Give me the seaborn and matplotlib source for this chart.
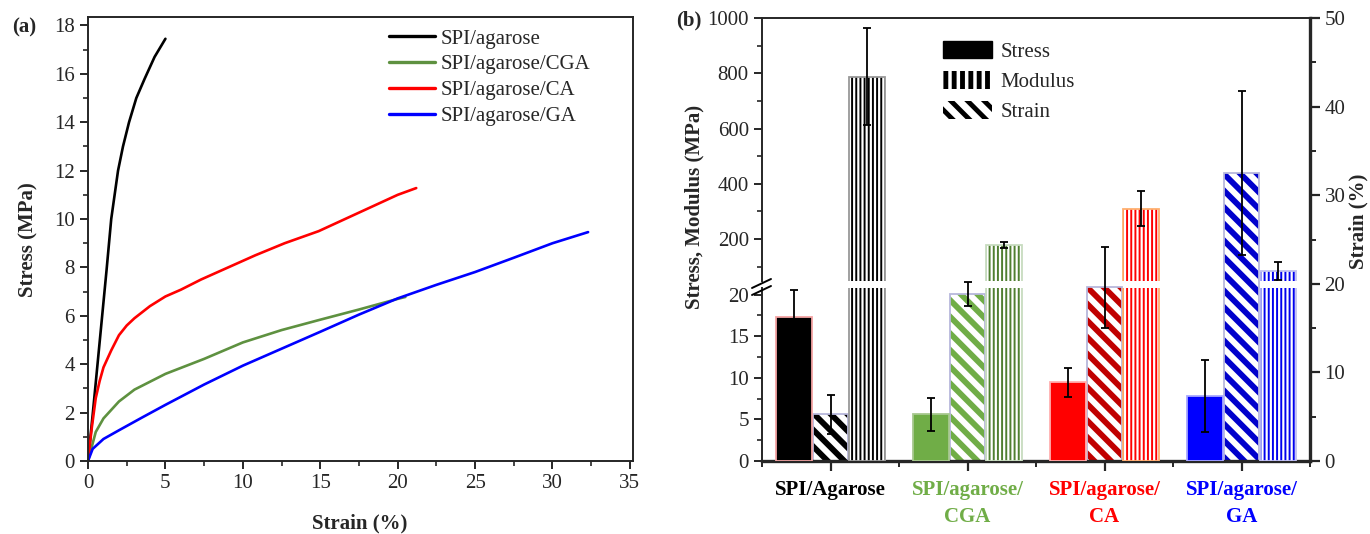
import numpy as np
import pandas as pd
import matplotlib
matplotlib.use('Agg')
import matplotlib.pyplot as plt
from matplotlib.patches import Patch
from matplotlib.lines import Line2D
from matplotlib.ticker import MultipleLocator, FixedLocator
import seaborn as sns

# (a) stress-strain curves
black_strain = [0, 0.3, 0.6, 0.9, 1.2, 1.5, 1.72, 1.94, 2.26, 2.65, 3.12, 3.66, 4.3, 5.0]
black_stress = [0, 1.9, 3.9, 5.9, 7.9, 10.0, 11.0, 12.0, 13.0, 14.0, 15.0, 15.8, 16.7, 17.45]
green_strain = [0, 0.5, 1, 2, 3, 5, 7.5, 10, 12.5, 15, 17.5, 20, 20.5]
green_stress = [0, 1.2, 1.76, 2.46, 2.95, 3.6, 4.22, 4.9, 5.41, 5.84, 6.26, 6.7, 6.78]
red_strain = [0, 0.25, 0.5, 0.75, 1.0, 1.5, 2.0, 2.5, 3.0, 3.5, 4.0, 5.0, 6.0, 7.3, 9.05, 10.8, 12.7, 14.9, 16.6, 18.3, 20.0, 21.2]
red_stress = [0, 1.4, 2.6, 3.3, 3.87, 4.57, 5.2, 5.6, 5.9, 6.15, 6.4, 6.8, 7.08, 7.5, 8.0, 8.5, 9.0, 9.5, 10.0, 10.5, 11.0, 11.28]
blue_strain = [0, 0.3, 1, 2, 3.5, 5, 7.5, 10, 12.5, 15, 17.5, 20, 22.5, 25, 27.5, 30, 32.3]
blue_stress = [0, 0.5, 0.91, 1.27, 1.8, 2.32, 3.16, 3.94, 4.64, 5.34, 6.05, 6.72, 7.28, 7.81, 8.4, 9.0, 9.46]
curve_names = ['SPI/agarose', 'SPI/agarose/CGA', 'SPI/agarose/CA', 'SPI/agarose/GA']
curve_colors = ['black', '#5e9140', '#ff0000', '#0000ff']

# (b) bar values
samples = ['SPI/Agarose', 'SPI/agarose/\nCGA', 'SPI/agarose/\nCA', 'SPI/agarose/\nGA']
sample_colors = ['black', '#70ad47', '#ff0000', '#0000ff']
stress = [17.3, 5.6, 9.45, 7.8]
stress_err = [3.2, 1.95, 1.75, 4.3]
strain = [5.3, 18.9, 19.6, 32.5]
strain_err = [2.2, 1.35, 4.6, 9.3]
modulus = [788, 178, 310, 84]
modulus_err = [175, 10, 63, 31]

sns.set_style('ticks')
plt.rcParams['font.family'] = ['Liberation Serif', 'DejaVu Serif']
plt.rcParams['font.size'] = 15
plt.rcParams['axes.linewidth'] = 1.4

W, H = 1370, 534
fig = plt.figure(figsize=(13.7, 5.34), dpi=100)

def box(x0, y0, x1, y1):
    return [x0 / W, 1 - y1 / H, (x1 - x0) / W, (y1 - y0) / H]

def fx(x): return x / W
def fy(y): return 1 - y / H

# ---------------- panel (a)
ax = fig.add_axes(box(88, 17, 633, 461))
xs = [black_strain, green_strain, red_strain, blue_strain]
ys = [black_stress, green_stress, red_stress, blue_stress]
for i in range(4):
    df = pd.DataFrame({'strain': xs[i], 'stress': ys[i]})
    sns.lineplot(data=df, x='strain', y='stress', color=curve_colors[i], lw=1.9,
                 sort=False, estimator=None, label=curve_names[i], ax=ax)
ax.set_xlim(0, 35.2)
ax.set_ylim(0, 18.35)
ax.xaxis.set_major_locator(MultipleLocator(5))
ax.xaxis.set_minor_locator(MultipleLocator(2.5))
ax.yaxis.set_major_locator(MultipleLocator(2))
ax.yaxis.set_minor_locator(MultipleLocator(1))
ax.tick_params(which='major', direction='out', length=6, width=1.4, labelsize=15)
ax.tick_params(which='minor', direction='out', length=3.5, width=1.2)
ax.set_xlabel('')
ax.set_ylabel('')
for s in ax.spines.values():
    s.set_linewidth(1.4)
ax.legend(loc='upper left', bbox_to_anchor=(fx(389), fy(29)), bbox_transform=fig.transFigure,
          frameon=False, fontsize=15, handlelength=2.2, handletextpad=0.3,
          labelspacing=0.3, borderpad=0, borderaxespad=0)
for ln in ax.get_legend().get_lines():
    ln.set_linewidth(2.4)
fig.text(fx(28), fy(240), 'Stress (MPa)', rotation=90, ha='center', va='center',
         fontsize=15, fontweight='bold')
fig.text(fx(360), fy(523), 'Strain (%)', ha='center', va='center', fontsize=15, fontweight='bold')
fig.text(fx(24), fy(27), '(a)', ha='center', va='center', fontsize=15, fontweight='bold')

# ---------------- panel (b)
axf = fig.add_axes(box(762, 18, 1310, 461))
axh = fig.add_axes(box(762, 18, 1310, 281), facecolor='none')
axl = fig.add_axes(box(762, 288, 1310, 461), facecolor='none')

pos = np.arange(1, 5)
w = 0.262
off = 0.266
stress_edge = ['#f4a4a4', '#a8c890', '#ffb0b0', '#a8a8ff']
strain_hatch = ['black', '#70ad47', '#c00000', '#0000cc']
strain_edge = '#b8b8dc'
mod_hatch = ['black', '#4f7f30', '#ff0000', '#0000ee']
mod_edge = ['#999999', '#c8dcc0', '#ffb070', '#c0c0f0']
err_kw = dict(fmt='none', ecolor='black', elinewidth=1.3, capsize=3, capthick=1.3, zorder=5)

def hatched_bar(a, x, h, hatch, hc, ec, hlw, bottom=0):
    plt.rcParams['hatch.linewidth'] = hlw
    bars = a.bar(x, h, w, bottom=bottom, color='white', edgecolor=hc, linewidth=0, hatch=hatch)
    for p in bars:
        if hasattr(p, 'set_hatch_linewidth'):
            p.set_hatch_linewidth(hlw)
    a.bar(x, h, w, bottom=bottom, fill=False, edgecolor=ec, linewidth=1.3)

for i in range(4):
    # stress (left, lower segment)
    axl.bar(pos[i] - off, stress[i], w, color=sample_colors[i], edgecolor=stress_edge[i], linewidth=1.3)
    axl.errorbar(pos[i] - off, stress[i], yerr=stress_err[i], **err_kw)
    # strain (right axis)
    hatched_bar(axf, pos[i], strain[i], '\\\\', strain_hatch[i], strain_edge, 4.2)
    axf.errorbar(pos[i], strain[i], yerr=strain_err[i], **err_kw)
    # modulus (left, both segments)
    hatched_bar(axl, pos[i] + off, modulus[i], '||||', mod_hatch[i], mod_edge[i], 1.4)
    hatched_bar(axh, pos[i] + off, modulus[i], '||||', mod_hatch[i], mod_edge[i], 1.4)
    axh.errorbar(pos[i] + off, modulus[i], yerr=modulus_err[i], **err_kw)

for a in (axf, axh, axl):
    a.set_xlim(0.5, 4.5)

axl.set_ylim(0, 20.8)
axh.set_ylim(48, 1000)
axf.set_ylim(0, 50)

# lower/upper left segments: left spine only
for a in (axh, axl):
    for k in ('top', 'right', 'bottom'):
        a.spines[k].set_visible(False)
    a.spines['left'].set_linewidth(1.4)
    a.set_xticks([])
    a.tick_params(which='major', direction='out', length=6, width=1.4, labelsize=15)
    a.tick_params(which='minor', direction='out', length=3.5, width=1.2)
axl.yaxis.set_major_locator(MultipleLocator(5))
axl.yaxis.set_minor_locator(MultipleLocator(2.5))
axh.yaxis.set_major_locator(FixedLocator([200, 400, 600, 800, 1000]))
axh.yaxis.set_minor_locator(FixedLocator([100, 300, 500, 700, 900]))

# full frame with strain axis on the right
axf.spines['left'].set_visible(False)
axf.spines['bottom'].set_linewidth(2.4)
axf.spines['right'].set_linewidth(2.4)
axf.spines['top'].set_linewidth(1.4)
axf.yaxis.tick_right()
axf.yaxis.set_major_locator(MultipleLocator(10))
axf.yaxis.set_minor_locator(MultipleLocator(5))
axf.set_xticks(pos)
axf.set_xticklabels(samples, fontweight='bold', fontsize=15, linespacing=1.45)
for lab, c in zip(axf.get_xticklabels(), sample_colors):
    lab.set_color(c)
axf.xaxis.set_minor_locator(FixedLocator([0.5, 1.5, 2.5, 3.5, 4.5]))
axf.tick_params(which='major', direction='out', length=7, width=1.6, labelsize=15)
axf.tick_params(which='minor', direction='out', length=4, width=1.4)
axf.tick_params(axis='x', which='major', pad=7)

# axis break marks
for dy in (0, 7):
    fig.add_artist(Line2D([fx(752), fx(771)], [fy(288 + dy), fy(279 + dy)], color='black', lw=1.4))

fig.text(fx(694), fy(207), 'Stress, Modulus (MPa)', rotation=90, ha='center', va='center',
         fontsize=15, fontweight='bold')
fig.text(fx(1358), fy(221), 'Strain (%)', rotation=90, ha='center', va='center',
         fontsize=15, fontweight='bold')
fig.text(fx(689), fy(20), '(b)', ha='center', va='center', fontsize=15, fontweight='bold')

plt.rcParams['hatch.linewidth'] = 3.5
handles = [Patch(facecolor='black', edgecolor='black', label='Stress'),
           Patch(facecolor='white', edgecolor='black', hatch='||', linewidth=0, label='Modulus'),
           Patch(facecolor='white', edgecolor='black', hatch='\\\\', linewidth=0, label='Strain')]
axh.legend(handles=handles, loc='upper left', bbox_to_anchor=(fx(943), fy(41)),
           bbox_transform=fig.transFigure, frameon=False, fontsize=15,
           handlelength=2.35, handleheight=0.9, handletextpad=0.4, labelspacing=0.45,
           borderpad=0, borderaxespad=0)

fig.savefig('out.png', dpi=100)
